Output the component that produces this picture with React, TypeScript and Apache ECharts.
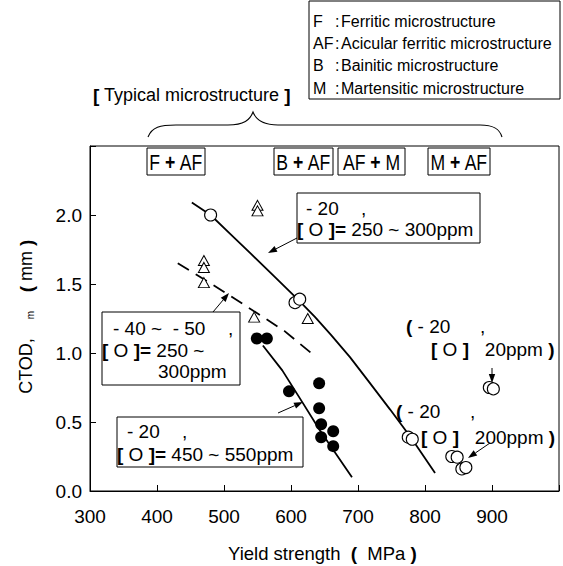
import React, { useEffect, useRef } from "react";
import * as echarts from "echarts";

// ---- data ----
const xTicks = [300, 400, 500, 600, 700, 800, 900];
const openCirclesMain = [[480, 2.0], [606, 1.365], [613, 1.39], [775, 0.39], [781, 0.375]];
const openCirclesHigh = [[896, 0.75], [902, 0.74], [840, 0.25], [848, 0.245], [855, 0.16], [861, 0.17]];
const triangles = [[550, 2.07], [550, 2.03], [470, 1.67], [470, 1.62], [470, 1.51], [545, 1.26], [625, 1.25]];
const filledCircles = [[549, 1.105], [564, 1.105], [597, 0.722], [642, 0.78], [642, 0.6], [645, 0.484], [663, 0.433], [645, 0.39], [663, 0.325]];
const curveO250 = [[452, 2.09], [480, 2.0], [510, 1.86], [540, 1.72], [575, 1.555], [612, 1.38], [636, 1.26], [660, 1.13], [688, 0.97], [715, 0.8], [748, 0.59], [780, 0.38], [815, 0.13]];
const curveDashed = [[431, 1.65], [470, 1.535], [509, 1.415], [549, 1.29], [590, 1.16], [630, 1.0]];
const curveO450 = [[558, 1.054], [587, 0.874], [618, 0.635], [643, 0.44], [667, 0.27], [691, 0.1]];
const structureLabels = ["F + AF", "B + AF", "AF + M", "M + AF"];
const legendKeys = ["F", "AF", "B", "M"];
const legendTexts = ["Ferritic microstructure", "Acicular ferritic microstructure", "Bainitic microstructure", "Martensitic microstructure"];

const FONT = "Liberation Sans, Arial, sans-serif";

let registered = false;
function registerBrace() {
  if (registered) return;
  registered = true;
  const d = "M148,137 C152,127 160,125 176,125 L228,125 C244,125 250,120 253,112 C256,120 263,125 278,125 L480,125 C495,125 500,130 502,137";
  echarts.graphic.registerShape("brace", echarts.graphic.extendPath(d, {}));
}

function arrow(x1: number, y1: number, x2: number, y2: number) {
  const a = Math.atan2(y2 - y1, x2 - x1);
  const L = 9, W = 3.2;
  const c = Math.cos(a), s = Math.sin(a);
  const bx = x2 - L * c, by = y2 - L * s;
  return [
    { type: "line", shape: { x1, y1, x2: bx, y2: by }, style: { stroke: "#000", lineWidth: 1 }, z: 10 },
    { type: "polygon", shape: { points: [[x2, y2], [bx - s * W, by + c * W], [bx + s * W, by - c * W]] }, style: { fill: "#000" }, z: 10 },
  ];
}

const rich = {
  b: { fontWeight: "bold", fontSize: 19, fontFamily: FONT, fill: "#000" },
};

function txt(x: number, y: number, text: string, size = 19, extra: any = {}) {
  return {
    type: "text",
    x, y, z: 11,
    style: {
      text, fill: "#000", fontSize: size, fontFamily: FONT,
      textAlign: "left", textVerticalAlign: "middle", rich, ...extra,
    },
  };
}

function box(x: number, y: number, w: number, h: number) {
  return { type: "rect", shape: { x, y, width: w, height: h }, style: { fill: "#fff", stroke: "#000", lineWidth: 1 }, z: 9 };
}

export default function App() {
  const ref = useRef<HTMLDivElement>(null);
  useEffect(() => {
    registerBrace();
    const chart = echarts.init(ref.current!, null, { renderer: "svg" });

    const structBoxes = [[147, 58], [274, 59], [338, 67], [428, 62]];
    const graphics: any[] = [];

    // legend box (top right)
    graphics.push(box(309, 1, 251, 98));
    const legY = [21, 43, 65, 88];
    legendKeys.forEach((k, i) => {
      graphics.push(txt(313, legY[i], k, 16));
      graphics.push(txt(335, legY[i], ":", 16));
      graphics.push(txt(341, legY[i], legendTexts[i], 16));
    });

    // typical microstructure label & brace
    graphics.push(txt(93, 95, "{b|[} Typical microstructure {b|]}", 18));
    graphics.push({ type: "brace", x: 0, y: 0, style: { fill: "none", stroke: "#000", lineWidth: 1.1 }, z: 10 });

    // structure boxes
    structureLabels.forEach((lab, i) => {
      const [bx, bw] = structBoxes[i];
      graphics.push(box(bx, 148, bw, 27));
      const parts = lab.split(" + ");
      graphics.push({
        type: "text", x: bx + bw / 2, y: 162, scaleX: 0.8, z: 11,
        style: {
          text: `${parts[0]} {p|+} ${parts[1]}`, fill: "#000", fontSize: 22, fontFamily: FONT,
          textAlign: "center", textVerticalAlign: "middle",
          rich: { p: { fontWeight: "bold", fontSize: 22, fontFamily: FONT } },
        },
      });
    });

    // annotation box 1
    graphics.push(box(297, 193, 183, 50));
    graphics.push(txt(306, 208, "- 20"));
    graphics.push(txt(361, 208, ","));
    graphics.push(txt(297, 229, "{b|[} O {b|]=} 250 ~ 300ppm"));
    graphics.push(...arrow(297, 238, 268, 253));

    // annotation box 2
    graphics.push(box(102, 312, 138, 73));
    graphics.push(txt(113, 328, "- 40 ~  - 50"));
    graphics.push(txt(228, 328, ","));
    graphics.push(txt(102, 350, "{b|[} O {b|]=} 250 ~"));
    graphics.push(txt(158, 371, "300ppm"));
    graphics.push(...arrow(213, 312, 229, 293));

    // annotation box 3
    graphics.push(box(117, 417, 186, 50));
    graphics.push(txt(127, 431, "- 20"));
    graphics.push(txt(182, 431, ","));
    graphics.push(txt(117, 454, "{b|[} O {b|]=} 450 ~ 550ppm"));
    graphics.push(...arrow(278, 413, 303, 402));

    // free text 4 ([O] 20ppm)
    graphics.push(txt(406, 326, "{b|(} - 20"));
    graphics.push(txt(480, 326, ","));
    graphics.push(txt(431, 349, "{b|[} O {b|]}   20ppm {b|)}"));
    graphics.push(...arrow(492, 368, 492, 383));

    // free text 5 ([O] 200ppm)
    graphics.push(txt(396, 411, "{b|(} - 20"));
    graphics.push(txt(470, 411, ","));
    graphics.push(txt(421, 437, "{b|[} O {b|]}   200ppm {b|)}"));
    graphics.push(...arrow(490, 443, 468, 458));

    // y axis title (rotated)
    const rot = Math.PI / 2;
    graphics.push({ type: "text", x: 26, y: 366, rotation: rot, z: 11, style: { text: "CTOD,", fill: "#000", fontSize: 18, fontFamily: FONT, textAlign: "center", textVerticalAlign: "middle" } });
    graphics.push({ type: "text", x: 30, y: 315, rotation: rot, z: 11, style: { text: "m", fill: "#000", fontSize: 10, fontFamily: FONT, textAlign: "center", textVerticalAlign: "middle" } });
    graphics.push({ type: "text", x: 26, y: 266, rotation: rot, z: 11, style: { text: "{b|(} mm {b|)}", fill: "#000", fontSize: 18, fontFamily: FONT, textAlign: "center", textVerticalAlign: "middle", rich } });

    // x axis title
    graphics.push(txt(228, 553, "Yield strength  {b|(}  MPa {b|)}", 18.5));

    const lineBase = { type: "line", symbol: "none", smooth: false, silent: true, z: 2 };

    chart.setOption({
      animation: false,
      grid: { left: 90, right: 4, top: 146, bottom: 75, show: true, borderColor: "#000", borderWidth: 1, backgroundColor: "transparent" },
      xAxis: {
        type: "value", min: 300, max: 1000, interval: 100,
        axisLine: { show: true, lineStyle: { color: "#000", width: 1 } },
        axisTick: { show: true, inside: true, length: 6, lineStyle: { color: "#000" } },
        splitLine: { show: false },
        axisLabel: {
          color: "#000", fontSize: 19, fontFamily: FONT, margin: 16,
          formatter: (v: number) => (xTicks.includes(v) ? String(v) : ""),
        },
      },
      yAxis: {
        type: "value", min: 0, max: 2.5, interval: 0.5,
        axisLine: { show: true, lineStyle: { color: "#000", width: 1 } },
        axisTick: { show: true, inside: true, length: 6, lineStyle: { color: "#000" } },
        splitLine: { show: false },
        axisLabel: {
          color: "#000", fontSize: 19, fontFamily: FONT, margin: 8,
          formatter: (v: number) => (v >= 2.5 ? "" : v.toFixed(1)),
        },
      },
      series: [
        { ...lineBase, data: curveO250, lineStyle: { color: "#000", width: 1.8 } },
        { ...lineBase, data: curveDashed, lineStyle: { color: "#000", width: 1.8, type: [13, 8] } },
        { ...lineBase, data: curveO450, lineStyle: { color: "#000", width: 1.8 } },
        { type: "scatter", data: triangles, symbol: "triangle", symbolSize: [11, 10], itemStyle: { color: "#fff", borderColor: "#000", borderWidth: 1, opacity: 1 }, z: 3 },
        { type: "scatter", data: filledCircles, symbol: "circle", symbolSize: 12, itemStyle: { color: "#000", borderColor: "#000", borderWidth: 0, opacity: 1 }, z: 3 },
        { type: "scatter", data: openCirclesMain, symbol: "circle", symbolSize: 12, itemStyle: { color: "#fff", borderColor: "#000", borderWidth: 1.1, opacity: 1 }, z: 4 },
        { type: "scatter", data: openCirclesHigh, symbol: "circle", symbolSize: 12, itemStyle: { color: "#fff", borderColor: "#000", borderWidth: 1.1, opacity: 1 }, z: 4 },
      ],
      graphic: graphics,
    });
    return () => chart.dispose();
  }, []);
  return <div ref={ref} style={{ position: "fixed", left: 0, top: 0, width: 563, height: 566, background: "#fff" }} />;
}
